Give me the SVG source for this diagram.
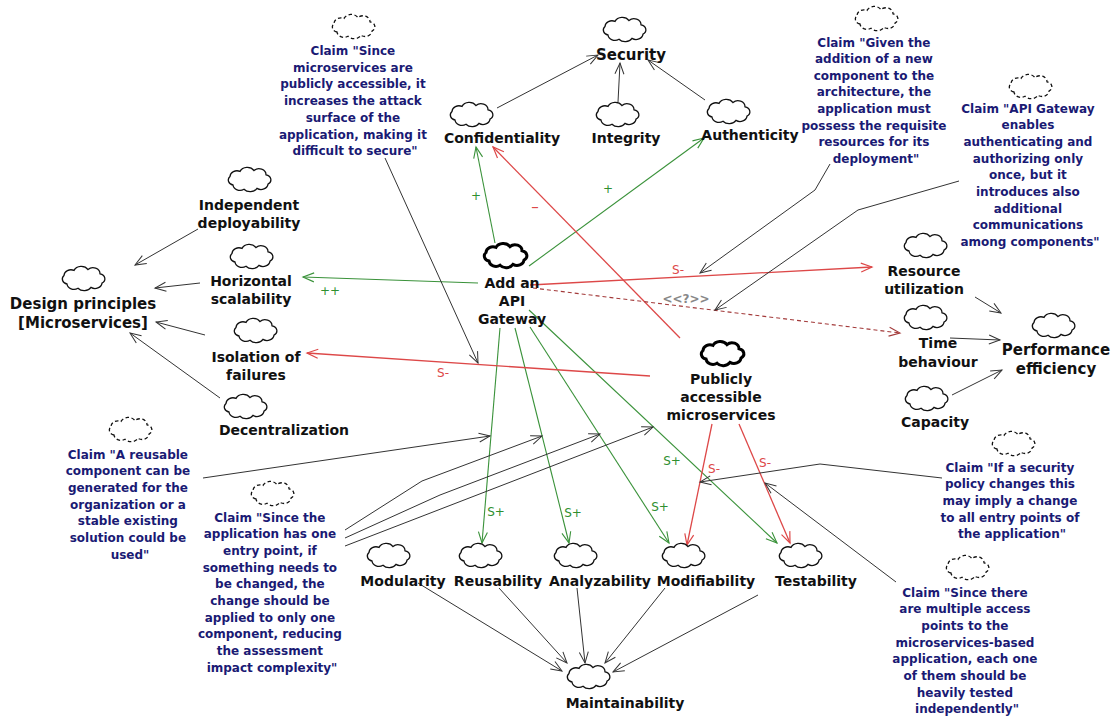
<svg xmlns="http://www.w3.org/2000/svg" xmlns:xlink="http://www.w3.org/1999/xlink" width="1113" height="717" viewBox="0 0 1113 717">
  <style>
    .lbl { font-family: "DejaVu Sans", Verdana, sans-serif; font-weight: bold; font-size: 14px; fill: #111; text-anchor: middle; }
    .big { font-size: 15px; }
    .claim { font-family: "DejaVu Sans", Verdana, sans-serif; font-weight: bold; font-size: 12px; fill: #1a1a74; text-anchor: middle; }
    .cl { fill: #fff; stroke: #111; stroke-width: 1.3; }
    .cl-bold { fill: #fff; stroke: #000; stroke-width: 3; }
    .cl-dash { fill: #fff; stroke: #111; stroke-width: 1.3; stroke-dasharray: 3.5 2.5; }
    .e-k { fill: none; stroke: #333; stroke-width: 1; marker-end: url(#ak); }
    .e-g { fill: none; stroke: #3a923a; stroke-width: 1.1; marker-end: url(#ag); }
    .e-r { fill: none; stroke: #dd4848; stroke-width: 1.3; marker-end: url(#ar); }
    .e-d { fill: none; stroke: #a33a3a; stroke-width: 1.1; stroke-dasharray: 4 3; marker-end: url(#ad); }
    .tg { font-family: "DejaVu Sans", Verdana, sans-serif; font-size: 12px; fill: #2f8f2f; text-anchor: middle; }
    .tr { font-family: "DejaVu Sans", Verdana, sans-serif; font-size: 12px; fill: #dd4848; text-anchor: middle; }
    .tq { font-family: "DejaVu Sans", Verdana, sans-serif; font-size: 12px; fill: #888; text-anchor: middle; font-weight: bold; }
  </style>
  <defs>
    <path id="cloud" d="M -16,5 a6,5.1 0 0 1 -3,-8.5 a7,6 0 0 1 10,-5.1 a8,6.8 0 0 1 14,-0.85 a7,6 0 0 1 12,4.25 a6,5.1 0 0 1 2,9.35 a7,6 0 0 1 -11,4.25 a8,6.8 0 0 1 -13,0.85 a7,6 0 0 1 -11,-4.25 z"/>
    <marker id="ak" markerUnits="userSpaceOnUse" markerWidth="12" markerHeight="10" refX="11" refY="4.5" orient="auto" overflow="visible">
      <path d="M0,0 L11,4.5 L0,9" fill="none" stroke="#333" stroke-width="1"/>
    </marker>
    <marker id="ag" markerUnits="userSpaceOnUse" markerWidth="12" markerHeight="10" refX="11" refY="4.5" orient="auto" overflow="visible">
      <path d="M0,0 L11,4.5 L0,9" fill="none" stroke="#3a923a" stroke-width="1.1"/>
    </marker>
    <marker id="ar" markerUnits="userSpaceOnUse" markerWidth="12" markerHeight="10" refX="11" refY="4.5" orient="auto" overflow="visible">
      <path d="M0,0 L11,4.5 L0,9" fill="none" stroke="#dd4848" stroke-width="1.2"/>
    </marker>
    <marker id="ad" markerUnits="userSpaceOnUse" markerWidth="12" markerHeight="10" refX="11" refY="4.5" orient="auto" overflow="visible">
      <path d="M0,0 L11,4.5 L0,9" fill="none" stroke="#a33a3a" stroke-width="1.1"/>
    </marker>
  </defs>

  <rect width="1113" height="717" fill="#fff"/>

  <!-- connectors -->
  <g id="connectors">
    <!-- decompositions -->
    <line class="e-k" x1="497" y1="108" x2="598" y2="55"/>
    <line class="e-k" x1="618" y1="102" x2="620" y2="63"/>
    <line class="e-k" x1="705" y1="100" x2="648" y2="60"/>
    <line class="e-k" x1="198" y1="229" x2="135" y2="265"/>
    <line class="e-k" x1="200" y1="283" x2="155" y2="288"/>
    <line class="e-k" x1="205" y1="335" x2="156" y2="322"/>
    <line class="e-k" x1="220" y1="398" x2="130" y2="333"/>
    <line class="e-k" x1="975" y1="297" x2="1001" y2="313"/>
    <line class="e-k" x1="950" y1="338" x2="1000" y2="340"/>
    <line class="e-k" x1="952" y1="395" x2="1002" y2="370"/>
    <line class="e-k" x1="418" y1="583" x2="562" y2="671"/>
    <line class="e-k" x1="499" y1="588" x2="567" y2="663"/>
    <line class="e-k" x1="577" y1="588" x2="585" y2="663"/>
    <line class="e-k" x1="665" y1="588" x2="605" y2="663"/>
    <line class="e-k" x1="758" y1="595" x2="613" y2="672"/>

    <!-- positive contributions -->
    <line class="e-g" x1="495" y1="243" x2="476" y2="147"/>
    <line class="e-g" x1="529" y1="266" x2="704" y2="138"/>
    <line class="e-g" x1="478" y1="283" x2="303" y2="277"/>
    <line class="e-g" x1="500" y1="328" x2="482" y2="543"/>
    <line class="e-g" x1="515" y1="328" x2="569" y2="543"/>
    <line class="e-g" x1="530" y1="327" x2="669" y2="543"/>
    <line class="e-g" x1="529" y1="310" x2="777" y2="543"/>

    <!-- negative contributions -->
    <line class="e-r" x1="530" y1="285" x2="872" y2="267"/>
    <line class="e-r" x1="680" y1="338" x2="493" y2="147"/>
    <line class="e-r" x1="650" y1="376" x2="307" y2="353"/>
    <line class="e-r" x1="712" y1="424" x2="687" y2="545"/>
    <line class="e-r" x1="739" y1="424" x2="790" y2="543"/>

    <!-- unknown contribution -->
    <line class="e-d" x1="533" y1="288" x2="900" y2="333"/>

    <!-- claim links -->
    <line class="e-k" x1="385" y1="158" x2="478" y2="363"/>
    <polyline class="e-k" points="830,164 815,190 700,273"/>
    <polyline class="e-k" points="959,181 858,210 715,310"/>
    <line class="e-k" x1="203" y1="478" x2="490" y2="436"/>
    <polyline class="e-k" points="345,530 422,481 542,436"/>
    <polyline class="e-k" points="345,538 440,495 600,434"/>
    <line class="e-k" x1="345" y1="546" x2="653" y2="427"/>
    <polyline class="e-k" points="942,478 820,464 700,482"/>
    <line class="e-k" x1="896" y1="582" x2="765" y2="483"/>

    <!-- contribution labels -->
    <text class="tg" x="476" y="200">+</text>
    <text class="tg" x="608" y="193">+</text>
    <text class="tg" x="330" y="295">++</text>
    <text class="tg" x="496" y="516">S+</text>
    <text class="tg" x="573" y="517">S+</text>
    <text class="tg" x="660" y="511">S+</text>
    <text class="tg" x="672" y="465">S+</text>
    <text class="tr" x="678" y="274">S-</text>
    <text class="tr" x="535" y="212" style="font-size:15px">–</text>
    <text class="tr" x="443" y="377">S-</text>
    <text class="tr" x="714" y="473">S-</text>
    <text class="tr" x="765" y="467">S-</text>
    <text class="tq" x="686" y="303">&lt;&lt;?&gt;&gt;</text>
  </g>

  <!-- softgoals -->
  <g id="security">
    <use href="#cloud" x="624" y="30" class="cl"/>
    <text class="lbl big" x="631" y="60">Security</text>
  </g>
  <g id="confidentiality">
    <use href="#cloud" x="471" y="115" class="cl"/>
    <text class="lbl" x="502" y="143">Confidentiality</text>
  </g>
  <g id="integrity">
    <use href="#cloud" x="617" y="115" class="cl"/>
    <text class="lbl" x="626" y="143">Integrity</text>
  </g>
  <g id="authenticity">
    <use href="#cloud" x="728" y="112" class="cl"/>
    <text class="lbl" x="750" y="140">Authenticity</text>
  </g>
  <g id="independent-deployability">
    <use href="#cloud" x="249" y="180" class="cl"/>
    <text class="lbl"><tspan x="249" y="210">Independent</tspan><tspan x="249" y="228">deployability</tspan></text>
  </g>
  <g id="horizontal-scalability">
    <use href="#cloud" x="251" y="257" class="cl"/>
    <text class="lbl"><tspan x="251" y="286">Horizontal</tspan><tspan x="251" y="304">scalability</tspan></text>
  </g>
  <g id="design-principles">
    <use href="#cloud" x="83" y="279" class="cl"/>
    <text class="lbl big"><tspan x="83" y="309">Design principles</tspan><tspan x="83" y="328">[Microservices]</tspan></text>
  </g>
  <g id="isolation-of-failures">
    <use href="#cloud" x="255" y="331" class="cl"/>
    <text class="lbl"><tspan x="256" y="362">Isolation of</tspan><tspan x="256" y="380">failures</tspan></text>
  </g>
  <g id="decentralization">
    <use href="#cloud" x="245" y="407" class="cl"/>
    <text class="lbl" x="284" y="435">Decentralization</text>
  </g>
  <g id="resource-utilization">
    <use href="#cloud" x="925" y="246" class="cl"/>
    <text class="lbl"><tspan x="924" y="276">Resource</tspan><tspan x="924" y="294">utilization</tspan></text>
  </g>
  <g id="time-behaviour">
    <use href="#cloud" x="925" y="318" class="cl"/>
    <text class="lbl"><tspan x="938" y="348">Time</tspan><tspan x="938" y="367">behaviour</tspan></text>
  </g>
  <g id="performance-efficiency">
    <use href="#cloud" x="1053" y="326" class="cl"/>
    <text class="lbl big"><tspan x="1056" y="355">Performance</tspan><tspan x="1056" y="374">efficiency</tspan></text>
  </g>
  <g id="capacity">
    <use href="#cloud" x="926" y="399" class="cl"/>
    <text class="lbl" x="935" y="427">Capacity</text>
  </g>
  <g id="modularity">
    <use href="#cloud" x="388" y="556" class="cl"/>
    <text class="lbl" x="403" y="586">Modularity</text>
  </g>
  <g id="reusability">
    <use href="#cloud" x="480" y="556" class="cl"/>
    <text class="lbl" x="498" y="586">Reusability</text>
  </g>
  <g id="analyzability">
    <use href="#cloud" x="575" y="556" class="cl"/>
    <text class="lbl" x="600" y="586">Analyzability</text>
  </g>
  <g id="modifiability">
    <use href="#cloud" x="683" y="556" class="cl"/>
    <text class="lbl" x="706" y="586">Modifiability</text>
  </g>
  <g id="testability">
    <use href="#cloud" x="800" y="556" class="cl"/>
    <text class="lbl" x="816" y="586">Testability</text>
  </g>
  <g id="maintainability">
    <use href="#cloud" x="588" y="677" class="cl"/>
    <text class="lbl" x="625" y="708">Maintainability</text>
  </g>

  <!-- operationalizations -->
  <g id="add-api-gateway">
    <use href="#cloud" x="505" y="256" class="cl-bold"/>
    <text class="lbl"><tspan x="512" y="288">Add an</tspan><tspan x="512" y="306">API</tspan><tspan x="512" y="324">Gateway</tspan></text>
  </g>
  <g id="publicly-accessible">
    <use href="#cloud" x="722" y="354" class="cl-bold"/>
    <text class="lbl"><tspan x="721" y="384">Publicly</tspan><tspan x="721" y="402">accessible</tspan><tspan x="721" y="420">microservices</tspan></text>
  </g>

  <!-- claims -->
  <g id="claim-attack-surface">
    <use href="#cloud" x="353" y="27" class="cl-dash"/>
    <text class="claim">
      <tspan x="355" y="55">Claim "Since</tspan>
      <tspan x="355" y="71.7">microservices are</tspan>
      <tspan x="355" y="88.4">publicly accessible, it</tspan>
      <tspan x="355" y="105.1">increases the attack</tspan>
      <tspan x="355" y="121.8">surface of the</tspan>
      <tspan x="355" y="138.5">application, making it</tspan>
      <tspan x="355" y="155.2">difficult to secure"</tspan>
    </text>
  </g>
  <g id="claim-resources">
    <use href="#cloud" x="876" y="19" class="cl-dash"/>
    <text class="claim">
      <tspan x="876" y="46.5">Claim "Given the</tspan>
      <tspan x="876" y="63.1">addition of a new</tspan>
      <tspan x="876" y="79.7">component to the</tspan>
      <tspan x="876" y="96.3">architecture, the</tspan>
      <tspan x="876" y="112.9">application must</tspan>
      <tspan x="876" y="129.5">possess the requisite</tspan>
      <tspan x="876" y="146.1">resources for its</tspan>
      <tspan x="876" y="162.7">deployment"</tspan>
    </text>
  </g>
  <g id="claim-auth-once">
    <use href="#cloud" x="1030" y="87" class="cl-dash"/>
    <text class="claim">
      <tspan x="1030" y="112.5">Claim "API Gateway</tspan>
      <tspan x="1030" y="129.2">enables</tspan>
      <tspan x="1030" y="145.9">authenticating and</tspan>
      <tspan x="1030" y="162.6">authorizing only</tspan>
      <tspan x="1030" y="179.3">once, but it</tspan>
      <tspan x="1030" y="196">introduces also</tspan>
      <tspan x="1030" y="212.7">additional</tspan>
      <tspan x="1030" y="229.4">communications</tspan>
      <tspan x="1030" y="246.1">among components"</tspan>
    </text>
  </g>
  <g id="claim-reusable">
    <use href="#cloud" x="130" y="430" class="cl-dash"/>
    <text class="claim">
      <tspan x="130" y="458.5">Claim "A reusable</tspan>
      <tspan x="130" y="475.2">component can be</tspan>
      <tspan x="130" y="491.9">generated for the</tspan>
      <tspan x="130" y="508.6">organization or a</tspan>
      <tspan x="130" y="525.3">stable existing</tspan>
      <tspan x="130" y="542">solution could be</tspan>
      <tspan x="130" y="558.7">used"</tspan>
    </text>
  </g>
  <g id="claim-one-entry">
    <use href="#cloud" x="272" y="494" class="cl-dash"/>
    <text class="claim">
      <tspan x="272" y="521.5">Claim "Since the</tspan>
      <tspan x="272" y="538.2">application has one</tspan>
      <tspan x="272" y="554.9">entry point, if</tspan>
      <tspan x="272" y="571.6">something needs to</tspan>
      <tspan x="272" y="588.3">be changed, the</tspan>
      <tspan x="272" y="605">change should be</tspan>
      <tspan x="272" y="621.7">applied to only one</tspan>
      <tspan x="272" y="638.4">component, reducing</tspan>
      <tspan x="272" y="655.1">the assessment</tspan>
      <tspan x="272" y="671.8">impact complexity"</tspan>
    </text>
  </g>
  <g id="claim-security-policy">
    <use href="#cloud" x="1013" y="444" class="cl-dash"/>
    <text class="claim">
      <tspan x="1012" y="471.5">Claim "If a security</tspan>
      <tspan x="1012" y="488.2">policy changes this</tspan>
      <tspan x="1012" y="504.9">may imply a change</tspan>
      <tspan x="1012" y="521.6">to all entry points of</tspan>
      <tspan x="1012" y="538.3">the application"</tspan>
    </text>
  </g>
  <g id="claim-multiple-access">
    <use href="#cloud" x="967" y="568" class="cl-dash"/>
    <text class="claim">
      <tspan x="967" y="596.5">Claim "Since there</tspan>
      <tspan x="967" y="613.2">are multiple access</tspan>
      <tspan x="967" y="629.9">points to the</tspan>
      <tspan x="967" y="646.6">microservices-based</tspan>
      <tspan x="967" y="663.3">application, each one</tspan>
      <tspan x="967" y="680">of them should be</tspan>
      <tspan x="967" y="696.7">heavily tested</tspan>
      <tspan x="967" y="713.4">independently"</tspan>
    </text>
  </g>
</svg>
